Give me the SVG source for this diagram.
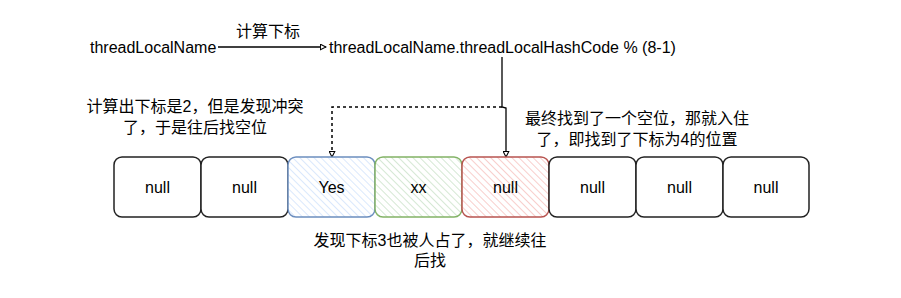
<svg xmlns="http://www.w3.org/2000/svg" width="901" height="298" viewBox="0 0 901 298">
<style>
text{font-family:"Liberation Sans","Noto Sans CJK SC",Arial,sans-serif;font-size:16px;fill:#000}
.c{text-anchor:middle}
.box{stroke-width:1.5}
.plain{fill:#fff;stroke:#222}
.blue{fill:url(#hb);stroke:#6c8ebf}
.green{fill:url(#hg);stroke:#82b366}
.red{fill:url(#hr);stroke:#b85450}
.ln{fill:none;stroke:#000;stroke-width:1.3}
.dash{stroke-dasharray:3 3;stroke-width:1.5}
</style>
<defs>
<pattern id="hb" width="5" height="5" patternUnits="userSpaceOnUse" patternTransform="rotate(-45)"><rect width="5" height="5" fill="#fff"/><line x1="0" y1="0" x2="0" y2="5" stroke="#dae8fc" stroke-width="2"/></pattern>
<pattern id="hg" width="5" height="5" patternUnits="userSpaceOnUse" patternTransform="rotate(-45)"><rect width="5" height="5" fill="#fff"/><line x1="0" y1="0" x2="0" y2="5" stroke="#d5e8d4" stroke-width="2"/></pattern>
<pattern id="hr" width="5" height="5" patternUnits="userSpaceOnUse" patternTransform="rotate(-45)"><rect width="5" height="5" fill="#fff"/><line x1="0" y1="0" x2="0" y2="5" stroke="#f8cecc" stroke-width="2"/></pattern>
<marker id="ar" viewBox="0 0 10 10" refX="9" refY="5" markerWidth="7" markerHeight="7" orient="auto" markerUnits="userSpaceOnUse"><path d="M1,1 L9,5 L1,9 Z" fill="#fff" stroke="#000" stroke-width="1.5"/></marker>
</defs>

<g id="connectors">
<line class="ln" x1="218" y1="47" x2="326" y2="47" marker-end="url(#ar)"/>
<path class="ln" d="M502,57 L502,107 L506,108 L506,157" marker-end="url(#ar)"/>
<path class="ln dash" d="M502,107 L332,107 L332,157" marker-end="url(#ar)"/>
<text class="c" x="268" y="37">计算下标</text>
</g>

<g id="src"><text x="90" y="53">threadLocalName</text></g>
<g id="hash"><text x="329" y="53">threadLocalName.threadLocalHashCode % (8-1)</text></g>

<g id="note1">
<text class="c" x="195" y="112">计算出下标是2，但是发现冲突</text>
<text class="c" x="195" y="133">了，于是往后找空位</text>
</g>
<g id="note2">
<text class="c" x="637" y="124">最终找到了一个空位，那就入住</text>
<text class="c" x="637" y="145">了，即找到了下标为4的位置</text>
</g>
<g id="note3">
<text class="c" x="430" y="246">发现下标3也被人占了，就继续往</text>
<text class="c" x="430" y="266">后找</text>
</g>

<g id="b0"><rect class="box plain" x="114" y="157" width="87" height="60" rx="8"/><text class="c" x="157.5" y="193">null</text></g>
<g id="b1"><rect class="box plain" x="201" y="157" width="87" height="60" rx="8"/><text class="c" x="244.5" y="193">null</text></g>
<g id="b2"><rect class="box blue" x="288" y="157" width="87" height="60" rx="8"/><text class="c" x="331.5" y="193">Yes</text></g>
<g id="b3"><rect class="box green" x="375" y="157" width="87" height="60" rx="8"/><text class="c" x="418.5" y="193">xx</text></g>
<g id="b4"><rect class="box red" x="462" y="157" width="87" height="60" rx="8"/><text class="c" x="505.5" y="193">null</text></g>
<g id="b5"><rect class="box plain" x="549" y="157" width="87" height="60" rx="8"/><text class="c" x="592.5" y="193">null</text></g>
<g id="b6"><rect class="box plain" x="636" y="157" width="87" height="60" rx="8"/><text class="c" x="679.5" y="193">null</text></g>
<g id="b7"><rect class="box plain" x="723" y="157" width="86" height="60" rx="8"/><text class="c" x="766" y="193">null</text></g>
</svg>
